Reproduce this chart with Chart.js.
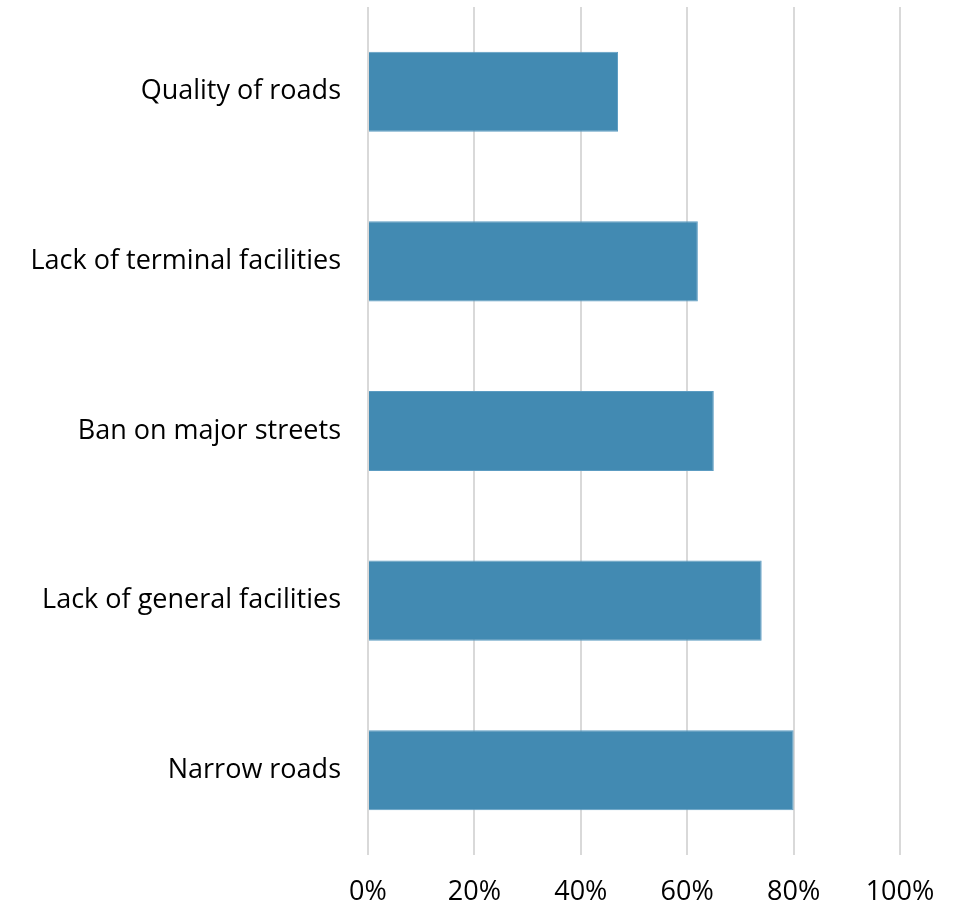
<!DOCTYPE html>
<html>
<head>
<meta charset="utf-8">
<script src="https://cdn.jsdelivr.net/npm/chart.js@4.4.1/dist/chart.umd.min.js"></script>
<style>
  html, body { margin: 0; padding: 0; background: #fff; }
  #wrap { width: 964px; height: 904px; }
</style>
</head>
<body>
<div id="wrap"><canvas id="chart"></canvas></div>
<script>
const categories = [
    "Quality of roads",
    "Lack of terminal facilities",
    "Ban on major streets",
    "Lack of general facilities",
    "Narrow roads"
];
const shares = [47, 62, 65, 74, 80];
const xTicks = [0, 20, 40, 60, 80, 100];

const fonte = { family: "'Open Sans'", size: 27 };

const ctx = document.getElementById("chart");
new Chart(ctx, {
    type: "bar",
    data: {
        labels: categories,
        datasets: [{
            data: shares,
            backgroundColor: "#428AB2",
            borderColor: "#5C9CC2",
            borderWidth: 1,
            barPercentage: 0.472,
            categoryPercentage: 1
        }]
    },
    options: {
        indexAxis: 'y',
        responsive: true,
        maintainAspectRatio: false,
        animation: false,
        layout: { padding: { top: 7, bottom: 0, left: 0, right: 64 } },
        plugins: {
            legend: { display: false },
            tooltip: { enabled: false }
        },
        scales: {
            x: {
                min: 0,
                max: 100,
                afterBuildTicks: axis => { axis.ticks = xTicks.map(v => ({ value: v })); },
                afterFit: axis => { axis.height = 49; axis.paddingLeft = 0; axis.paddingRight = 0; },
                border: { display: false },
                grid: { color: "#D9D9D9", lineWidth: 2, drawTicks: false },
                ticks: {
                    padding: 21,
                    color: "#000",
                    font: fonte,
                    maxRotation: 0,
                    callback: val => `${val}%`
                }
            },
            y: {
                afterFit: axis => { axis.width = 368; axis.paddingTop = 0; axis.paddingBottom = 0; },
                border: { display: false },
                grid: { display: false },
                ticks: {
                    padding: 19,
                    color: "#000",
                    font: fonte
                }
            }
        }
    }
});
</script>
</body>
</html>
